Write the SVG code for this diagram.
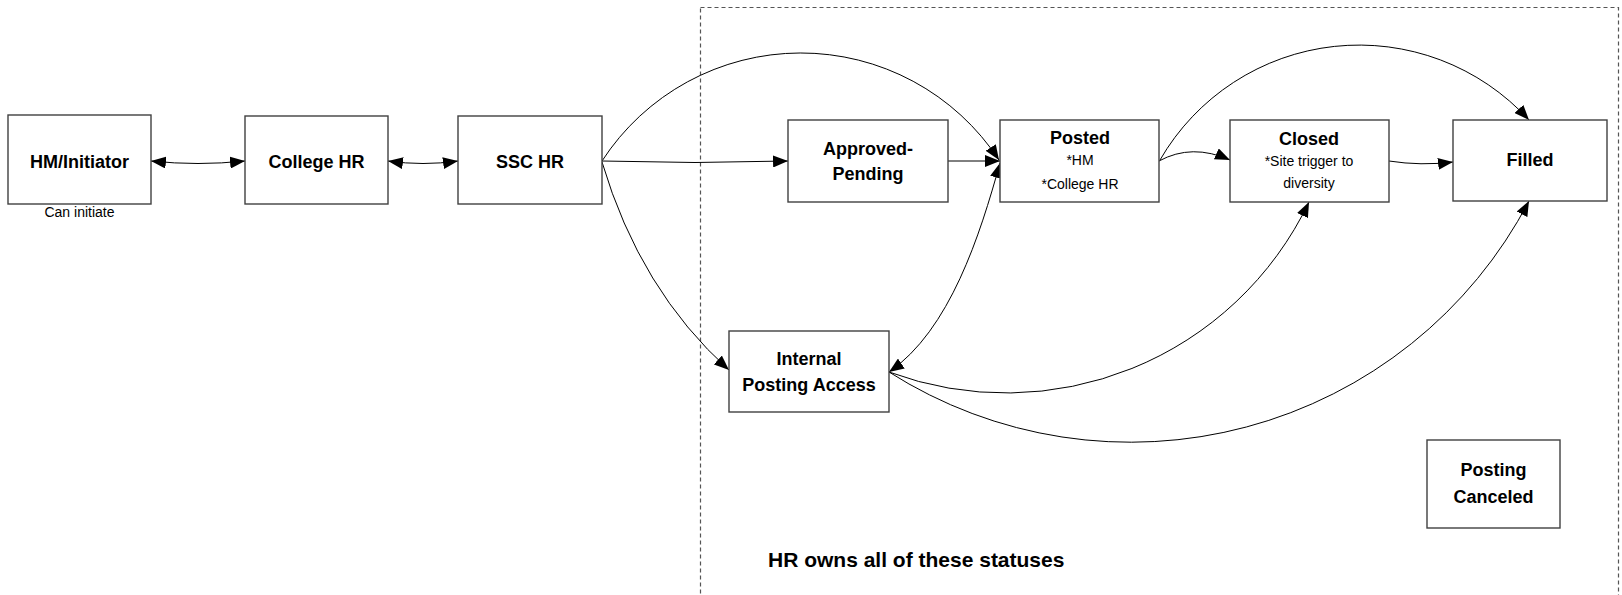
<svg xmlns="http://www.w3.org/2000/svg" width="1622" height="595" viewBox="0 0 1622 595">
<style>
.box{fill:#ffffff;stroke:#404040;stroke-width:1.4}
.lbl{font-family:"Liberation Sans",Arial,sans-serif;font-weight:bold;font-size:18px;fill:#000;text-anchor:middle}
.sub{font-family:"Liberation Sans",Arial,sans-serif;font-size:14px;fill:#000;text-anchor:middle}
.con{fill:none;stroke:#000;stroke-width:1}
.zone{fill:none;stroke:#555;stroke-width:1.2;stroke-dasharray:4 3}
</style>
<defs>
<marker id="arr" viewBox="0 0 15 12" refX="15" refY="6" markerWidth="15" markerHeight="12" markerUnits="userSpaceOnUse" orient="auto-start-reverse">
<path d="M0,0 L15,6 L0,12 z" fill="#000"/>
</marker>
</defs>
<rect width="1622" height="595" fill="#ffffff"/>
<g id="hr-zone">
<rect class="zone" x="700.5" y="7.5" width="918" height="600"/>
<text x="768" y="567" font-family="'Liberation Sans',Arial,sans-serif" font-weight="bold" font-size="21" fill="#000">HR owns all of these statuses</text>
</g>
<g id="connectors">
<path class="con" d="M151,161 Q198,166 245,161" marker-start="url(#arr)" marker-end="url(#arr)"/>
<path class="con" d="M388,161 Q423,166 458,161" marker-start="url(#arr)" marker-end="url(#arr)"/>
<path class="con" d="M602,161 Q695,164 788,161" marker-end="url(#arr)"/>
<path class="con" d="M602,161 A237,237 0 0 1 999,160" marker-end="url(#arr)"/>
<path class="con" d="M948,161 L1000,161" marker-end="url(#arr)"/>
<path class="con" d="M602,162 Q640,290 729,370" marker-end="url(#arr)"/>
<path class="con" d="M1000,163 C980,235 950,330 889,372" marker-start="url(#arr)" marker-end="url(#arr)"/>
<path class="con" d="M1159,161 Q1192,143 1230,160" marker-end="url(#arr)"/>
<path class="con" d="M1160,160 A230,230 0 0 1 1529,120" marker-end="url(#arr)"/>
<path class="con" d="M1389,161 Q1421,166 1453,162" marker-end="url(#arr)"/>
<path class="con" d="M889,372 A336,336 0 0 0 1309,202" marker-end="url(#arr)"/>
<path class="con" d="M889,372 A450,450 0 0 0 1529,201" marker-end="url(#arr)"/>
</g>
<g id="hm-initiator">
<rect class="box" x="8" y="115" width="143" height="89"/>
<text class="lbl" x="79.5" y="168">HM/Initiator</text>
<text x="79.5" y="217" font-family="'Liberation Sans',Arial,sans-serif" font-size="14" fill="#000" text-anchor="middle">Can initiate</text>
</g>
<g id="college-hr">
<rect class="box" x="245" y="116" width="143" height="88"/>
<text class="lbl" x="316.5" y="168">College HR</text>
</g>
<g id="ssc-hr">
<rect class="box" x="458" y="116" width="144" height="88"/>
<text class="lbl" x="530" y="168">SSC HR</text>
</g>
<g id="approved-pending">
<rect class="box" x="788" y="120" width="160" height="82"/>
<text class="lbl" x="868" y="155">Approved-</text>
<text class="lbl" x="868" y="180">Pending</text>
</g>
<g id="posted">
<rect class="box" x="1000" y="120" width="159" height="82"/>
<text class="lbl" x="1080" y="144">Posted</text>
<text class="sub" x="1080" y="165">*HM</text>
<text class="sub" x="1080" y="189">*College HR</text>
</g>
<g id="closed">
<rect class="box" x="1230" y="120" width="159" height="82"/>
<text class="lbl" x="1309" y="145">Closed</text>
<text class="sub" x="1309" y="166">*Site trigger to</text>
<text class="sub" x="1309" y="188">diversity</text>
</g>
<g id="filled">
<rect class="box" x="1453" y="120" width="154" height="81"/>
<text class="lbl" x="1530" y="166">Filled</text>
</g>
<g id="internal-posting-access">
<rect class="box" x="729" y="331" width="160" height="81"/>
<text class="lbl" x="809" y="365">Internal</text>
<text class="lbl" x="809" y="391">Posting Access</text>
</g>
<g id="posting-canceled">
<rect class="box" x="1427" y="440" width="133" height="88"/>
<text class="lbl" x="1493.5" y="476">Posting</text>
<text class="lbl" x="1493.5" y="503">Canceled</text>
</g>
</svg>
